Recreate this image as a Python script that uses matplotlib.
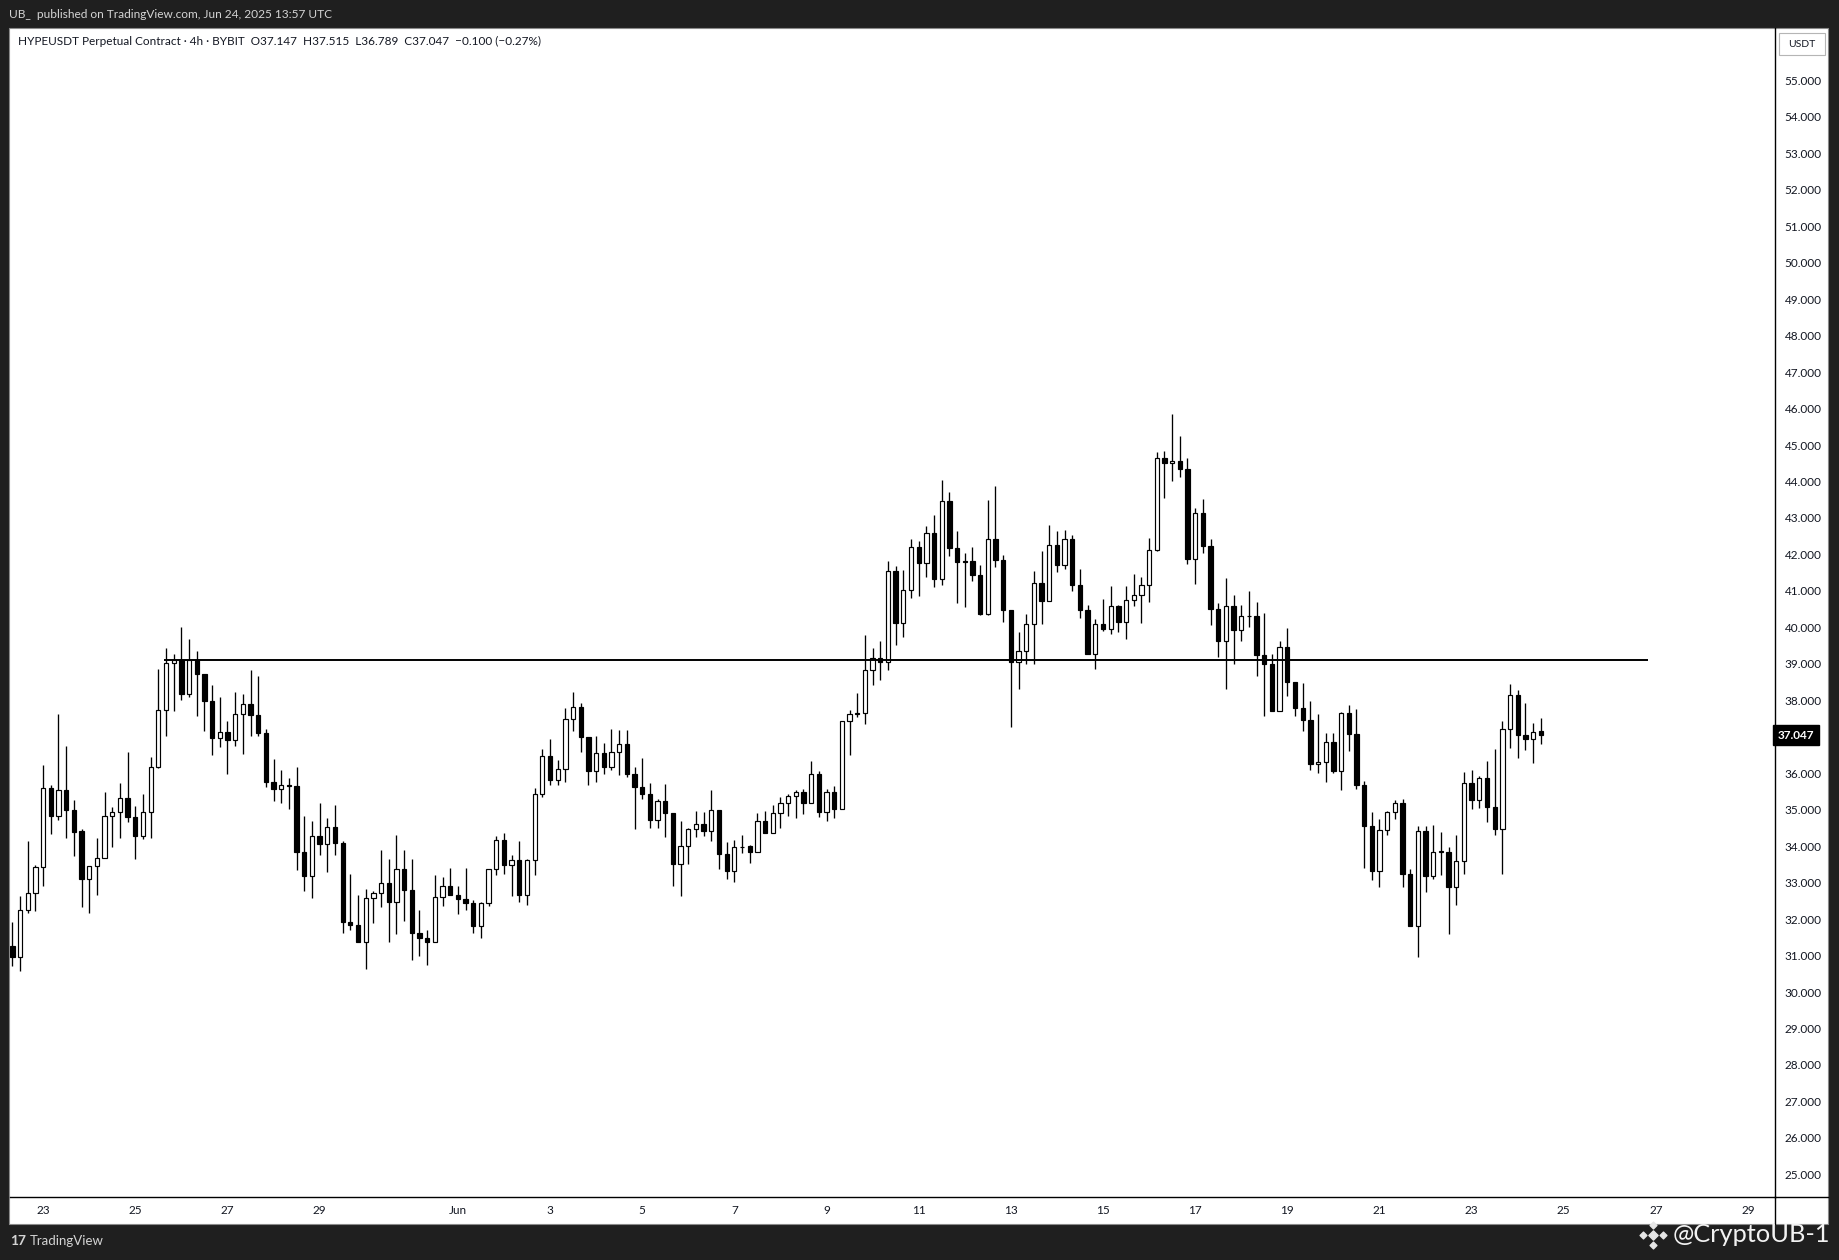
import matplotlib
matplotlib.use('Agg')
import matplotlib.pyplot as plt
from matplotlib.patches import Rectangle
import numpy as np
from datetime import datetime

plt.rcParams['font.family'] = ['Lato', 'DejaVu Sans']

# ---------------- data (4h candles, HYPEUSDT) ----------------
opens = [31.27, 30.97, 32.25, 32.71, 33.42, 35.59, 34.84, 35.54, 35.00, 34.42,
         33.10, 33.45, 33.67, 34.82, 34.93, 35.32, 34.79, 34.29, 34.93, 36.17,
         37.74, 39.02, 39.11, 38.17, 39.11, 38.72, 37.97, 36.96, 37.14, 36.90,
         37.63, 37.91, 37.61, 37.09, 35.75, 35.56, 35.68, 35.66, 33.85, 33.17,
         34.28, 34.05, 34.53, 34.10, 31.91, 31.85, 31.38, 32.57, 32.71, 32.99,
         32.48, 33.37, 32.81, 31.63, 31.47, 31.36, 32.60, 32.90, 32.67, 32.56,
         32.45, 31.82, 32.44, 33.37, 34.17, 33.47, 33.62, 32.65, 33.62, 35.43,
         36.47, 35.81, 36.11, 37.48, 37.81, 36.99, 36.06, 36.55, 36.17, 36.58,
         36.80, 35.98, 35.61, 35.42, 34.73, 35.23, 34.92, 33.51, 34.00, 34.47,
         34.60, 34.41, 34.99, 33.78, 33.31, 33.97, 34.01, 33.83, 34.69, 34.35,
         34.91, 35.18, 35.37, 35.48, 35.18, 35.98, 34.95, 35.48, 35.02, 37.43,
         37.62, 37.65, 38.83, 39.16, 39.05, 41.55, 40.11, 41.02, 42.20, 41.76,
         42.59, 41.33, 43.47, 42.19, 41.81, 41.81, 41.43, 40.38, 42.41, 41.84,
         40.47, 39.05, 39.35, 40.10, 41.22, 40.72, 42.26, 41.70, 42.42, 41.15,
         40.47, 39.26, 40.09, 39.95, 40.59, 40.16, 40.75, 40.89, 41.16, 42.12,
         44.65, 44.51, 44.56, 44.34, 41.87, 43.14, 42.23, 40.50, 39.62, 40.59,
         39.92, 40.31, 40.30, 39.23, 38.99, 37.72, 39.46, 38.49, 37.80, 37.45,
         36.24, 36.31, 36.85, 36.05, 37.66, 37.07, 35.69, 34.54, 33.33, 34.44,
         34.94, 35.18, 33.25, 31.82, 34.41, 33.17, 33.84, 33.84, 32.87, 33.59,
         35.73, 35.26, 35.87, 35.07, 34.47, 37.21, 38.14, 37.06, 36.93, 37.147]
highs = [31.93, 32.62, 34.13, 33.48, 36.23, 35.68, 37.63, 36.75, 35.27, 34.47,
         33.45, 34.23, 35.49, 35.08, 35.72, 36.59, 35.11, 35.44, 36.45, 38.87,
         39.44, 39.28, 40.00, 39.69, 39.36, 38.73, 38.43, 38.10, 37.44, 38.24,
         38.18, 38.84, 38.67, 37.21, 36.40, 36.10, 35.88, 36.18, 34.83, 34.70,
         35.19, 34.78, 35.14, 34.15, 33.24, 32.67, 32.83, 32.76, 33.90, 33.65,
         34.31, 33.90, 33.65, 32.24, 31.70, 33.21, 33.16, 33.41, 32.91, 33.41,
         32.51, 32.46, 33.37, 34.28, 34.37, 33.76, 34.15, 33.65, 35.59, 36.66,
         36.95, 36.37, 37.80, 38.23, 37.92, 36.99, 37.02, 36.83, 37.21, 37.18,
         37.18, 36.17, 36.41, 35.73, 35.29, 35.71, 34.92, 34.69, 34.50, 34.96,
         34.93, 35.55, 34.99, 34.11, 34.17, 34.31, 34.04, 34.91, 34.97, 35.13,
         35.35, 35.44, 35.53, 35.57, 36.34, 36.07, 35.57, 35.66, 37.43, 37.73,
         38.20, 39.80, 39.43, 39.63, 41.83, 41.69, 41.58, 42.41, 42.38, 42.79,
         43.09, 44.05, 43.72, 42.63, 42.04, 42.20, 41.71, 43.48, 43.89, 41.99,
         40.47, 39.88, 40.38, 41.55, 42.10, 42.82, 42.65, 42.68, 42.54, 41.61,
         40.62, 40.24, 40.79, 41.14, 40.62, 41.14, 41.47, 41.39, 42.45, 44.81,
         44.85, 45.86, 45.26, 44.65, 43.27, 43.52, 42.42, 40.67, 41.36, 40.90,
         40.60, 41.00, 40.70, 40.40, 39.27, 39.63, 39.98, 38.51, 38.47, 37.99,
         37.63, 37.11, 37.11, 37.69, 37.88, 37.77, 35.79, 34.94, 34.75, 34.97,
         35.27, 35.30, 33.37, 34.56, 34.56, 34.59, 34.38, 33.97, 34.31, 36.03,
         36.09, 35.92, 36.33, 36.66, 37.43, 38.44, 38.28, 37.92, 37.38, 37.515]
lows = [30.72, 30.59, 32.16, 32.21, 32.91, 34.34, 34.72, 34.23, 33.74, 32.32,
        32.18, 32.67, 33.67, 33.99, 34.23, 34.65, 33.66, 34.20, 34.23, 36.13,
        37.01, 37.72, 38.00, 38.08, 37.56, 37.17, 36.51, 36.73, 35.99, 36.76,
        36.54, 37.01, 37.01, 35.61, 35.25, 35.17, 35.03, 33.35, 32.78, 32.59,
        33.75, 33.28, 33.77, 31.61, 31.71, 31.36, 30.64, 31.88, 32.32, 31.38,
        31.60, 31.96, 30.89, 31.00, 30.75, 31.36, 32.37, 32.67, 32.15, 32.24,
        31.63, 31.49, 32.35, 33.22, 33.25, 32.62, 32.48, 32.40, 33.22, 35.34,
        35.69, 35.67, 35.75, 37.15, 36.57, 35.69, 35.75, 35.98, 36.09, 35.95,
        35.91, 34.46, 35.28, 34.49, 34.51, 34.25, 32.92, 32.62, 33.50, 34.25,
        34.27, 34.13, 33.36, 33.09, 33.03, 33.81, 33.53, 33.83, 34.35, 34.35,
        34.49, 34.84, 34.76, 34.87, 35.18, 34.79, 34.68, 34.76, 35.02, 36.49,
        37.54, 37.35, 38.42, 38.56, 38.84, 39.53, 39.73, 40.80, 40.85, 41.37,
        41.10, 41.15, 41.95, 40.66, 40.55, 41.26, 40.33, 40.33, 41.65, 40.14,
        37.26, 38.30, 38.99, 38.99, 40.08, 40.72, 41.51, 41.61, 41.01, 40.27,
        39.26, 38.85, 39.91, 39.81, 39.86, 39.67, 40.58, 40.11, 40.69, 42.09,
        43.54, 44.01, 44.12, 41.74, 41.19, 42.04, 40.06, 39.20, 38.31, 38.99,
        39.62, 40.00, 38.68, 37.56, 37.72, 37.72, 38.13, 37.56, 37.15, 36.08,
        36.02, 35.77, 36.02, 35.55, 36.60, 35.58, 33.39, 33.06, 32.89, 34.31,
        34.75, 32.89, 31.80, 30.97, 32.73, 33.11, 33.22, 31.58, 32.40, 33.25,
        35.03, 35.06, 34.65, 34.30, 33.25, 36.68, 36.43, 36.65, 36.27, 36.789]
closes = [30.97, 32.25, 32.71, 33.42, 35.59, 34.84, 35.54, 35.00, 34.40, 33.10,
          33.45, 33.67, 34.82, 34.93, 35.32, 34.79, 34.29, 34.93, 36.17, 37.74,
          39.02, 39.11, 38.17, 39.11, 38.72, 37.97, 36.96, 37.14, 36.90, 37.63,
          37.91, 37.61, 37.09, 35.75, 35.56, 35.68, 35.66, 33.85, 33.17, 34.28,
          34.05, 34.53, 34.10, 31.91, 31.85, 31.38, 32.57, 32.71, 32.99, 32.48,
          33.37, 32.81, 31.63, 31.47, 31.36, 32.60, 32.90, 32.67, 32.56, 32.45,
          31.82, 32.44, 33.37, 34.17, 33.47, 33.62, 32.65, 33.62, 35.43, 36.47,
          35.81, 36.11, 37.48, 37.81, 36.99, 36.06, 36.55, 36.17, 36.58, 36.80,
          35.98, 35.61, 35.42, 34.73, 35.23, 34.92, 33.51, 34.00, 34.47, 34.60,
          34.41, 34.99, 33.78, 33.31, 33.97, 33.99, 33.83, 34.69, 34.35, 34.91,
          35.18, 35.37, 35.48, 35.18, 35.98, 34.95, 35.48, 35.02, 37.43, 37.62,
          37.65, 38.83, 39.16, 39.05, 41.55, 40.11, 41.02, 42.20, 41.76, 42.59,
          41.33, 43.47, 42.19, 41.78, 41.80, 41.43, 40.38, 42.41, 41.84, 40.47,
          39.05, 39.35, 40.10, 41.22, 40.72, 42.26, 41.71, 42.42, 41.15, 40.47,
          39.26, 40.09, 39.95, 40.59, 40.16, 40.75, 40.89, 41.16, 42.12, 44.65,
          44.51, 44.56, 44.34, 41.87, 43.14, 42.23, 40.50, 39.62, 40.59, 39.92,
          40.31, 40.30, 39.23, 38.99, 37.72, 39.46, 38.49, 37.80, 37.45, 36.24,
          36.31, 36.85, 36.05, 37.66, 37.07, 35.69, 34.54, 33.33, 34.44, 34.94,
          35.18, 33.25, 31.82, 34.41, 33.17, 33.84, 33.85, 32.87, 33.59, 35.73,
          35.26, 35.87, 35.07, 34.47, 37.21, 38.14, 37.06, 36.93, 37.13, 37.047]

first_candle = datetime(2025, 5, 22, 8)   # 4h bars
tick_dates = [datetime(2025, 5, 23), datetime(2025, 5, 25), datetime(2025, 5, 27),
              datetime(2025, 5, 29), datetime(2025, 6, 1), datetime(2025, 6, 3),
              datetime(2025, 6, 5), datetime(2025, 6, 7), datetime(2025, 6, 9),
              datetime(2025, 6, 11), datetime(2025, 6, 13), datetime(2025, 6, 15),
              datetime(2025, 6, 17), datetime(2025, 6, 19), datetime(2025, 6, 21),
              datetime(2025, 6, 23), datetime(2025, 6, 25), datetime(2025, 6, 27),
              datetime(2025, 6, 29)]
tick_labels = ["23", "25", "27", "29", "Jun", "3", "5", "7", "9", "11", "13",
               "15", "17", "19", "21", "23", "25", "27", "29"]
price_ticks = [p for p in range(25, 56) if p != 37]
level_price = 39.10

header = ("HYPEUSDT Perpetual Contract \u00b7 4h \u00b7 BYBIT  O37.147  H37.515  "
          "L36.789  C37.047  \u22120.100 (\u22120.27%)")
published = "UB_  published on TradingView.com, Jun 24, 2025 13:57 UTC"

# ---------------- figure ----------------
W, H = 1839, 1260
DARK = '#1f1f1f'
fig = plt.figure(figsize=(W / 100, H / 100), dpi=100, facecolor=DARK)

bg = fig.add_axes([0, 0, 1, 1], zorder=0)
bg.set_xlim(0, W)
bg.set_ylim(H, 0)
bg.axis('off')
bg.add_patch(Rectangle((9.5, 27.5), 1819, 1196.5, facecolor='white',
                       edgecolor='#8a8a8a', lw=0.8))

PL, PR, PT, PB = 9.5, 1775.0, 27.5, 1196.6
ax = fig.add_axes([PL / W, 1 - PB / H, (PR - PL) / W, (PB - PT) / H], zorder=1)
ax.set_facecolor('none')

x = np.arange(len(opens))
o = np.array(opens); h = np.array(highs); l = np.array(lows); c = np.array(closes)
up = c >= o
body_bottom = np.minimum(o, c)
body_height = np.maximum(np.abs(c - o), 0.015)
face = np.where(up, 'white', 'black')

ax.vlines(x, l, h, color='black', lw=0.95, zorder=2)
ax.bar(x, body_height, bottom=body_bottom, width=0.56, color=face,
       edgecolor='black', linewidth=0.85, zorder=3)

ax.hlines(level_price, 19.8, 213.0, color='black', lw=1.4, zorder=4)

ax.set_xlim(-0.38, 229.5)
ax.set_ylim(24.39, 56.45)

tick_pos = [(d - first_candle).total_seconds() / 14400 for d in tick_dates]
ax.set_xticks(tick_pos)
ax.set_xticklabels(tick_labels)
ax.yaxis.tick_right()
ax.set_yticks(price_ticks)
ax.set_yticklabels([f"{p:.3f}" for p in price_ticks])
ax.tick_params(axis='both', length=0, labelsize=8.5, colors='#131722')
ax.tick_params(axis='y', pad=7)
ax.tick_params(axis='x', pad=6)
for s in ['top', 'left']:
    ax.spines[s].set_visible(False)
for s in ['right', 'bottom']:
    ax.spines[s].set_color('black')
    ax.spines[s].set_linewidth(1.0)

# current price label
last = closes[-1]
ax.text(1.0016, last, f"{last:.3f}", transform=ax.get_yaxis_transform(),
        ha='left', va='center', fontsize=8.5, color='white', fontweight='bold',
        bbox=dict(boxstyle='square,pad=0.38', facecolor='black', edgecolor='black'),
        clip_on=False, zorder=6)

# axis extensions
bg.plot([PR, PR], [PB, 1224], color='black', lw=1.0)
bg.plot([PR, 1828.5], [PB, PB], color='black', lw=1.0)

# USDT box
bg.add_patch(Rectangle((1779, 33), 46, 22, facecolor='white', edgecolor='#b5b5b5', lw=0.8, zorder=3))
bg.text(1802, 44.5, "USDT", ha='center', va='center', fontsize=7.5, color='#131722', zorder=4)

# texts
bg.text(9, 14, published, ha='left', va='center', fontsize=8.6, color='#d4d4d4')
fig.text(18 / W, 1 - 41 / H, header, ha='left', va='center', fontsize=8.5,
         color='#131722', zorder=5)

# bottom bar: TradingView logo
bg.text(10, 1241, "17", ha='left', va='center', fontsize=10, fontweight='bold',
        color='#d4d4d4')
bg.text(30, 1241, "TradingView", ha='left', va='center', fontsize=9.5, color='#d4d4d4')

# watermark with diamond logo
lx, ly = 1653, 1235
bg.scatter([lx], [ly], marker='D', s=22, color='#e6e6e6', zorder=5)
bg.scatter([lx - 10, lx + 10, lx, lx], [ly, ly, ly - 10, ly + 10], marker='D', s=12,
           color='#e6e6e6', zorder=5)
bg.text(1673, 1235, "@CryptoUB-1", ha='left', va='center', fontsize=18.3,
        color='#f2f2f2', zorder=5)

fig.savefig('out.png', dpi=100, facecolor=DARK)
